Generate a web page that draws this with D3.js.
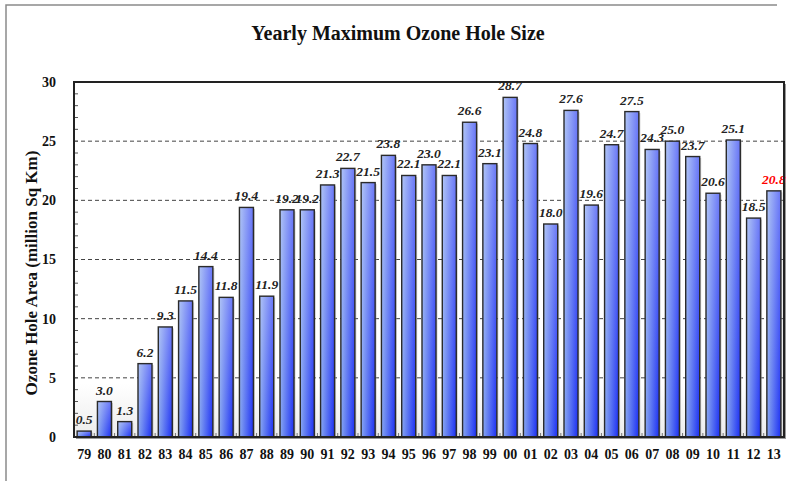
<!DOCTYPE html>
<html>
<head>
<meta charset="utf-8">
<script src="https://cdn.jsdelivr.net/npm/d3@7"></script>
<style>
  html, body { margin: 0; padding: 0; background: #fff; }
  svg { display: block; }
</style>
</head>
<body>
<svg id="chart" width="786" height="481"></svg>
<script>
// Yearly maximum ozone hole area, million square km
const years = ["79","80","81","82","83","84","85","86","87","88","89","90","91","92","93","94","95","96","97","98","99","00","01","02","03","04","05","06","07","08","09","10","11","12","13"];
const areas = [0.5,3.0,1.3,6.2,9.3,11.5,14.4,11.8,19.4,11.9,19.2,19.2,21.3,22.7,21.5,23.8,22.1,23.0,22.1,26.6,23.1,28.7,24.8,18.0,27.6,19.6,24.7,27.5,24.3,25.0,23.7,20.6,25.1,18.5,20.8];
const yTicks = [0,5,10,15,20,25,30];
const titleText = "Yearly Maximum Ozone Hole Size";
const yLabelText = "Ozone Hole Area (million Sq Km)";

const svg = d3.select("#chart");
const W = 786, H = 481;
const plot = { left: 74, right: 784, top: 82, bottom: 437 };
const serif = "'Liberation Serif', 'Times New Roman', serif";

const x = d3.scaleBand().domain(years).range([plot.left, plot.right]).paddingInner(0.31).paddingOuter(0.155);
const y = d3.scaleLinear().domain([0, 30]).range([plot.bottom, plot.top]);

const defs = svg.append("defs");
const gH = defs.append("linearGradient").attr("id", "barH").attr("x1", 0).attr("y1", 0).attr("x2", 1).attr("y2", 0);
gH.append("stop").attr("offset", "0%").attr("stop-color", "#86a6f0");
gH.append("stop").attr("offset", "100%").attr("stop-color", "#1a2ef3");
const gV = defs.append("linearGradient").attr("id", "barV").attr("x1", 0).attr("y1", 0).attr("x2", 0).attr("y2", 1);
gV.append("stop").attr("offset", "0%").attr("stop-color", "#ffffff").attr("stop-opacity", 0.35);
gV.append("stop").attr("offset", "100%").attr("stop-color", "#ffffff").attr("stop-opacity", 0);
const gBg = defs.append("linearGradient").attr("id", "bg").attr("x1", 0).attr("y1", 0).attr("x2", 0).attr("y2", 1);
gBg.append("stop").attr("offset", "0%").attr("stop-color", "#ffffff");
gBg.append("stop").attr("offset", "85%").attr("stop-color", "#ffffff");
gBg.append("stop").attr("offset", "100%").attr("stop-color", "#ececec");

// outer frame (top and left edges)
svg.append("path")
  .attr("d", `M6,${H} L6,5 L777,5`)
  .attr("fill", "none").attr("stroke", "#8a8a8a").attr("stroke-width", 1.5);

// title
svg.append("text")
  .attr("x", 398).attr("y", 40)
  .attr("text-anchor", "middle")
  .attr("font-family", serif)
  .attr("font-weight", "bold").attr("font-size", 20)
  .attr("fill", "#111")
  .text(titleText);

// plot frame shadow and background
svg.append("rect")
  .attr("x", plot.left + 2).attr("y", plot.top + 2)
  .attr("width", plot.right - plot.left).attr("height", plot.bottom - plot.top)
  .attr("fill", "#9a9a9a");
svg.append("rect")
  .attr("x", plot.left).attr("y", plot.top)
  .attr("width", plot.right - plot.left).attr("height", plot.bottom - plot.top)
  .attr("fill", "url(#bg)");

// dashed gridlines
svg.append("g")
  .selectAll("line")
  .data(yTicks.filter(d => d > 0 && d < 30))
  .join("line")
  .attr("x1", plot.left).attr("x2", plot.right)
  .attr("y1", d => y(d)).attr("y2", d => y(d))
  .attr("stroke", "#444").attr("stroke-width", 1)
  .attr("stroke-dasharray", "4,3");

// minor ticks on the left axis, one per unit
svg.append("g")
  .selectAll("line")
  .data(d3.range(1, 30))
  .join("line")
  .attr("x1", plot.left).attr("x2", plot.left + 4)
  .attr("y1", d => y(d)).attr("y2", d => y(d))
  .attr("stroke", "#555").attr("stroke-width", 1);

// ticks between categories on the bottom axis
svg.append("g")
  .selectAll("line")
  .data(years.slice(1))
  .join("line")
  .attr("x1", d => x(d) - x.step() * x.paddingInner() / 2)
  .attr("x2", d => x(d) - x.step() * x.paddingInner() / 2)
  .attr("y1", plot.bottom).attr("y2", plot.bottom - 4)
  .attr("stroke", "#777").attr("stroke-width", 1);

// bars: shadow, gradient body, highlight and outline
const bars = svg.append("g");
bars.selectAll("rect.shadow")
  .data(areas)
  .join("rect")
  .attr("class", "shadow")
  .attr("x", (d, i) => x(years[i]) + 1.5)
  .attr("y", d => y(d) + 1.5)
  .attr("width", x.bandwidth())
  .attr("height", d => plot.bottom - y(d) - 1.5)
  .attr("fill", "#a0a0a0").attr("opacity", 0.5);
bars.selectAll("rect.body")
  .data(areas)
  .join("rect")
  .attr("class", "body")
  .attr("x", (d, i) => x(years[i]))
  .attr("y", d => y(d))
  .attr("width", x.bandwidth())
  .attr("height", d => plot.bottom - y(d))
  .attr("fill", "url(#barH)");
bars.selectAll("rect.shine")
  .data(areas)
  .join("rect")
  .attr("class", "shine")
  .attr("x", (d, i) => x(years[i]))
  .attr("y", d => y(d))
  .attr("width", x.bandwidth())
  .attr("height", d => plot.bottom - y(d))
  .attr("fill", "url(#barV)")
  .attr("stroke", "#2a2a2a").attr("stroke-width", 1.4);

// value labels
svg.append("g")
  .selectAll("text")
  .data(areas)
  .join("text")
  .attr("x", (d, i) => x(years[i]) + x.bandwidth() / 2)
  .attr("y", d => y(d) - 7)
  .attr("text-anchor", "middle")
  .attr("font-family", serif)
  .attr("font-weight", "bold").attr("font-style", "italic")
  .attr("font-size", 13.5)
  .attr("fill", (d, i) => i === areas.length - 1 ? "#ff0000" : "#222")
  .text(d => d.toFixed(1));

// plot frame
svg.append("rect")
  .attr("x", plot.left).attr("y", plot.top)
  .attr("width", plot.right - plot.left).attr("height", plot.bottom - plot.top)
  .attr("fill", "none").attr("stroke", "#222").attr("stroke-width", 2);

// y axis labels
const yAxis = d3.axisLeft(y).tickValues(yTicks).tickSize(0).tickPadding(18);
svg.append("g")
  .attr("transform", `translate(${plot.left},0)`)
  .call(yAxis)
  .call(g => g.select(".domain").remove())
  .call(g => g.selectAll("text")
    .attr("font-family", serif)
    .attr("font-weight", "bold").attr("font-size", 14).attr("fill", "#111"));

// x axis labels
const xAxis = d3.axisBottom(x).tickSize(0).tickPadding(12);
svg.append("g")
  .attr("transform", `translate(0,${plot.bottom})`)
  .call(xAxis)
  .call(g => g.select(".domain").remove())
  .call(g => g.selectAll("text")
    .attr("font-family", serif)
    .attr("font-weight", "bold").attr("font-size", 14).attr("fill", "#111"));

// y axis title
svg.append("text")
  .attr("transform", "translate(37,273) rotate(-90)")
  .attr("text-anchor", "middle")
  .attr("font-family", serif)
  .attr("font-weight", "bold").attr("font-size", 17)
  .attr("fill", "#111")
  .text(yLabelText);
</script>
</body>
</html>
